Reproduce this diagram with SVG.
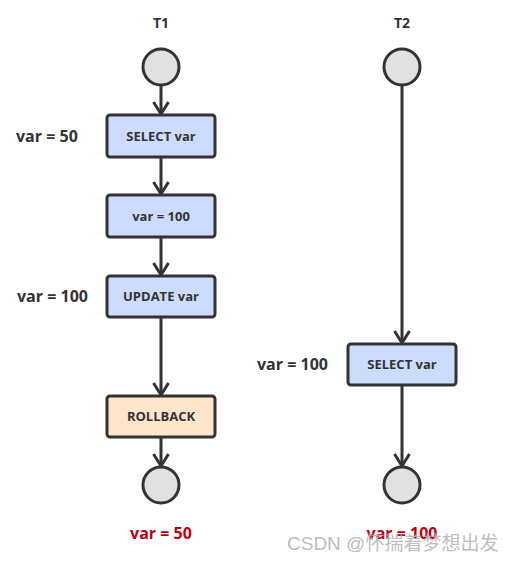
<svg xmlns="http://www.w3.org/2000/svg" width="513" height="561" viewBox="0 0 513 561">
<defs>
<style>
text{font-family:"Open Sans","Noto Sans","Liberation Sans",sans-serif;font-weight:bold;fill:#333}
.t{font-size:14px;text-anchor:middle}
.l{font-size:16px}
.b{font-size:13px;text-anchor:middle}
.r{font-size:16px;text-anchor:middle;fill:#c00010}
.box{fill:#cddcfd;stroke:#333;stroke-width:3}
.rb{fill:#ffe5cc;stroke:#333;stroke-width:3}
.c{fill:#e1e1e1;stroke:#333;stroke-width:3}
.e{stroke:#333;stroke-width:3;fill:none}
</style>
<marker id="a" viewBox="0 0 18 18" refX="15" refY="9" markerWidth="18" markerHeight="18" markerUnits="userSpaceOnUse" orient="auto">
<path d="M3,1.5 L15,9 L3,16.5" fill="none" stroke="#333" stroke-width="3"/>
</marker>
</defs>
<rect width="513" height="561" fill="#fff"/>
<text class="t" x="161" y="28">T1</text>
<text class="t" x="402" y="28">T2</text>
<g id="connectors">
<path class="e" d="M161,85 V114" marker-end="url(#a)"/>
<path class="e" d="M161,157 V194" marker-end="url(#a)"/>
<path class="e" d="M161,237 V275" marker-end="url(#a)"/>
<path class="e" d="M161,317 V395" marker-end="url(#a)"/>
<path class="e" d="M161,437 V466" marker-end="url(#a)"/>
<path class="e" d="M402,85 V343" marker-end="url(#a)"/>
<path class="e" d="M402,385 V466" marker-end="url(#a)"/>
</g>
<g id="t1start"><circle class="c" cx="161" cy="67" r="18"/></g>
<g id="t1select"><rect class="box" x="107" y="115" width="108" height="42" rx="3"/><text class="b" x="161" y="141">SELECT var</text></g>
<g id="t1set"><rect class="box" x="107" y="195" width="108" height="42" rx="3"/><text class="b" x="161" y="221">var = 100</text></g>
<g id="t1update"><rect class="box" x="107" y="276" width="108" height="41" rx="3"/><text class="b" x="161" y="301">UPDATE var</text></g>
<g id="t1rollback"><rect class="rb" x="107" y="396" width="108" height="41" rx="3"/><text class="b" x="161" y="421">ROLLBACK</text></g>
<g id="t1end"><circle class="c" cx="161" cy="485" r="18"/></g>
<g id="t2start"><circle class="c" cx="402" cy="67" r="18"/></g>
<g id="t2select"><rect class="box" x="348" y="344" width="108" height="41" rx="3"/><text class="b" x="402" y="369">SELECT var</text></g>
<g id="t2end"><circle class="c" cx="402" cy="485" r="18"/></g>
<text class="l" x="16" y="142">var = 50</text>
<text class="l" x="17" y="302">var = 100</text>
<text class="l" x="257" y="370">var = 100</text>
<text class="r" x="161" y="539">var = 50</text>
<text class="r" x="402" y="539">var = 100</text>
<text x="287" y="550" style="font-family:'Liberation Sans','Noto Sans CJK SC',sans-serif;font-weight:normal;font-size:19px;fill:#b4b4b4;fill-opacity:0.9">CSDN @怀揣着梦想出发</text>
</svg>
